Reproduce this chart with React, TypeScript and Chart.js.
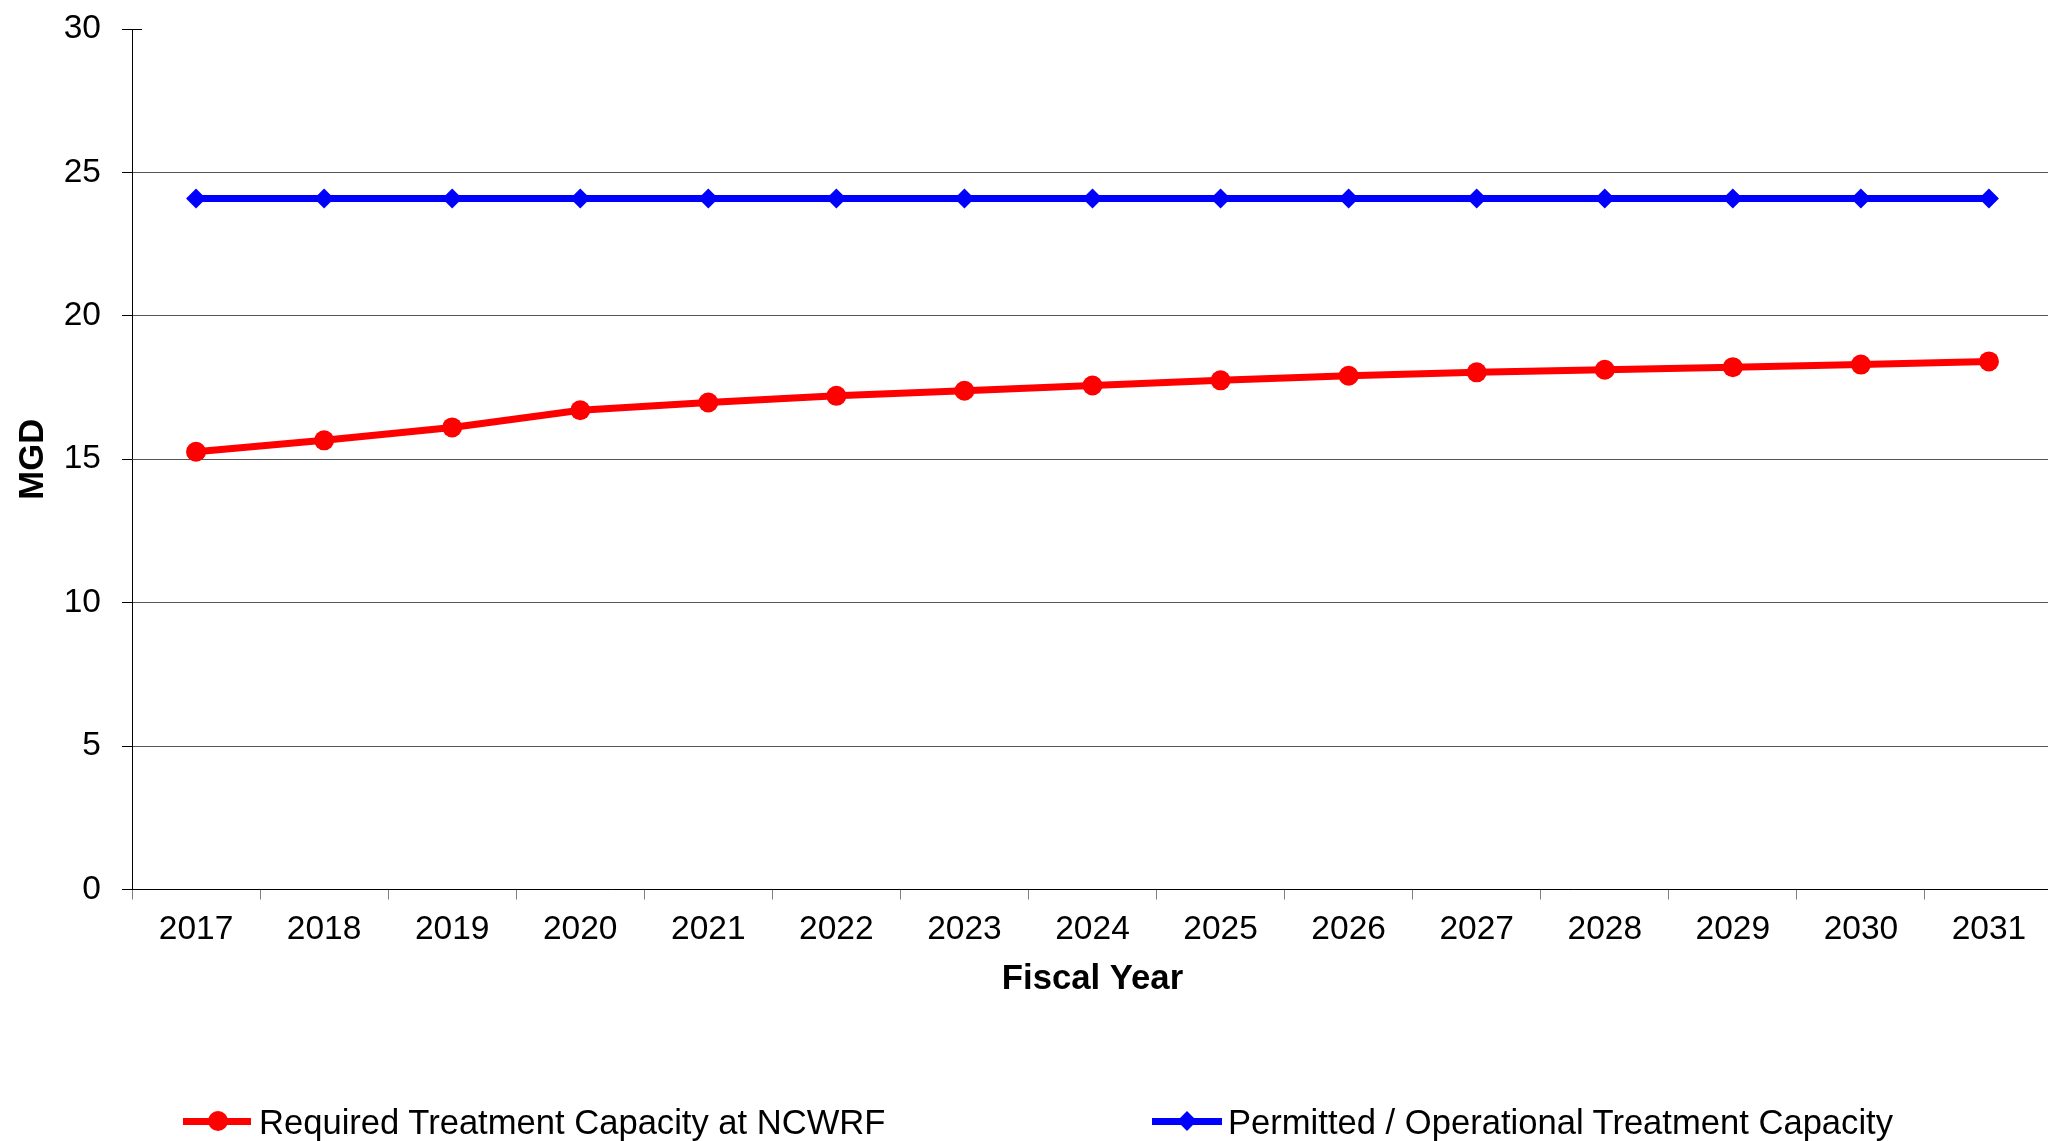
import React, { useEffect, useRef } from "react";
import { Chart, registerables } from "chart.js";

Chart.register(...registerables);

const years = ["2017", "2018", "2019", "2020", "2021", "2022", "2023", "2024", "2025", "2026", "2027", "2028", "2029", "2030", "2031"];
const requiredCapacity = [15.26, 15.66, 16.11, 16.71, 16.98, 17.21, 17.39, 17.57, 17.75, 17.91, 18.03, 18.12, 18.21, 18.3, 18.41];
const permittedCapacity = [24.09, 24.09, 24.09, 24.09, 24.09, 24.09, 24.09, 24.09, 24.09, 24.09, 24.09, 24.09, 24.09, 24.09, 24.09];
const yMin = 0;
const yMax = 30;
const yStep = 5;

const requiredLabel = "Required Treatment Capacity at NCWRF";
const permittedLabel = "Permitted / Operational Treatment Capacity";
const xTitle = "Fiscal Year";
const yTitle = "MGD";

const FONT = "'Liberation Sans', Arial, Helvetica, sans-serif";
const RED = "#ff0000";
const BLUE = "#0000ff";

export default function App() {
  const canvasRef = useRef<HTMLCanvasElement | null>(null);

  useEffect(() => {
    const canvas = canvasRef.current;
    if (!canvas) return;
    const topTickPlugin = {
      id: "topTick",
      afterDraw(chart: any) {
        const y = chart.scales.y;
        const ctx = chart.ctx;
        const py = Math.round(y.getPixelForValue(yMax)) + 0.5;
        ctx.save();
        ctx.strokeStyle = "#000";
        ctx.lineWidth = 1;
        ctx.beginPath();
        ctx.moveTo(chart.chartArea.left, py);
        ctx.lineTo(chart.chartArea.left + 10, py);
        ctx.stroke();
        ctx.restore();
      },
    };
    const chart = new Chart(canvas, {
      type: "line",
      data: {
        labels: years,
        datasets: [
          {
            label: requiredLabel,
            data: requiredCapacity,
            borderColor: RED,
            backgroundColor: RED,
            borderWidth: 7,
            pointStyle: "circle",
            pointRadius: 10,
            pointBackgroundColor: RED,
            pointBorderColor: RED,
            pointBorderWidth: 0,
            tension: 0,
          },
          {
            label: permittedLabel,
            data: permittedCapacity,
            borderColor: BLUE,
            backgroundColor: BLUE,
            borderWidth: 7,
            pointStyle: "rectRot",
            pointRadius: 10,
            pointBackgroundColor: BLUE,
            pointBorderColor: BLUE,
            pointBorderWidth: 0,
            tension: 0,
          },
        ],
      },
      options: {
        animation: false,
        responsive: false,
        maintainAspectRatio: false,
        devicePixelRatio: 1,
        layout: { padding: { top: 29, bottom: 141, left: 0, right: 2 } },
        plugins: {
          legend: { display: false },
          tooltip: { enabled: false },
        },
        scales: {
          x: {
            type: "category",
            offset: true,
            grid: {
              display: true,
              offset: true,
              drawOnChartArea: false,
              drawTicks: true,
              tickLength: 10,
              color: "#808080",
              tickColor: "#808080",
            },
            border: { display: true, color: "#000", width: 1 },
            ticks: {
              color: "#000",
              font: { family: FONT, size: 33.5 },
              padding: 10,
              maxRotation: 0,
              autoSkip: false,
            },
            title: {
              display: true,
              text: xTitle,
              color: "#000",
              font: { family: FONT, size: 34.7, weight: "bold" },
              padding: { top: 0, bottom: 0 },
            },
            afterFit(scale: any) {
              scale.height = 110.5;
              scale.paddingLeft = 0;
              scale.paddingRight = 0;
            },
          },
          y: {
            min: yMin,
            max: yMax,
            ticks: {
              stepSize: yStep,
              color: "#000",
              font: { family: FONT, size: 33.5 },
              padding: 21,
            },
            grid: {
              drawTicks: true,
              tickLength: 10,
              color: (ctx: any) => (ctx.tick && ctx.tick.value === yMax ? "rgba(0,0,0,0)" : "#555555"),
              tickColor: "#000",
            },
            border: { display: true, color: "#000", width: 1 },
            title: {
              display: true,
              text: yTitle,
              color: "#000",
              font: { family: FONT, size: 34.7, weight: "bold" },
              padding: { top: 13, bottom: 0 },
            },
            afterFit(scale: any) {
              scale.width = 132;
              scale.paddingTop = 0;
              scale.paddingBottom = 0;
            },
          },
        },
      },
      plugins: [topTickPlugin],
    });
    return () => chart.destroy();
  }, []);

  const legendText: React.CSSProperties = {
    position: "absolute",
    top: 1102,
    height: 40,
    lineHeight: "40px",
    fontFamily: FONT,
    fontSize: 34.6,
    color: "#000",
    whiteSpace: "nowrap",
  };
  const lineStyle = (left: number, width: number, color: string): React.CSSProperties => ({
    position: "absolute",
    left,
    top: 1118,
    width,
    height: 7,
    background: color,
  });

  return (
    <div style={{ position: "fixed", left: 0, top: 0, width: 2048, height: 1141, overflow: "hidden", background: "#fff" }}>
      <canvas ref={canvasRef} width={2063} height={1141} style={{ position: "absolute", left: 0, top: 0, width: 2063, height: 1141 }} />
      <div style={lineStyle(183, 68, RED)} />
      <div style={{ position: "absolute", left: 208, top: 1111, width: 20, height: 20, borderRadius: "50%", background: RED }} />
      <div style={{ ...legendText, left: 259 }}>{requiredLabel}</div>
      <div style={lineStyle(1152, 70, BLUE)} />
      <div style={{ position: "absolute", left: 1180, top: 1114, width: 14, height: 14, transform: "rotate(45deg)", background: BLUE }} />
      <div style={{ ...legendText, left: 1228 }}>{permittedLabel}</div>
    </div>
  );
}
